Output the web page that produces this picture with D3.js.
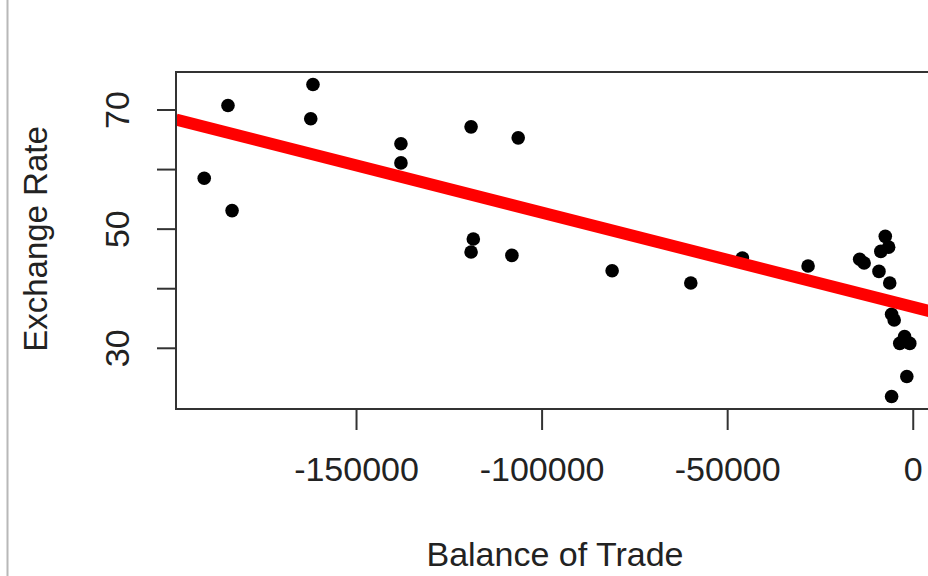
<!DOCTYPE html>
<html>
<head>
<meta charset="utf-8">
<script src="https://cdn.jsdelivr.net/npm/d3@7"></script>
<style>
  html, body { margin: 0; padding: 0; background: #fff; overflow: hidden; }
  svg { display: block; }
  text { font-family: "Liberation Sans", Arial, sans-serif; fill: #222; }
</style>
</head>
<body>
<svg id="chart" width="928" height="576"></svg>
<script>
// ---- data ----
const balance = [-190900, -184500, -183400, -161600, -162200, -137900, -137900, -119000, -106300,
  -118400, -119000, -108000, -81000, -59800, -45900, -28200, -14300, -13100, -7400, -6500,
  -8600, -9100, -6200, -5700, -5000, -2200, -3500, -800, -1600, -5700];
const exchangeRate = [58.45, 70.67, 53.03, 74.2, 68.44, 64.24, 61.04, 67.09, 65.24,
  48.27, 46.08, 45.51, 42.94, 40.87, 45.08, 43.73, 44.87, 44.24, 48.71, 46.89,
  46.18, 42.82, 40.87, 35.63, 34.66, 31.9, 30.74, 30.74, 25.18, 21.82];
const xTicks = [-150000, -100000, -50000, 0];
const yTicks = [30, 40, 50, 60, 70];
const yTickLabels = [30, 50, 70];
const fitIntercept = 36.86;
const fitSlope = -0.0001585;
const xLabel = "Balance of Trade";
const yLabel = "Exchange Rate";

// ---- layout ----
const plotL = 176, plotR = 938, plotT = 72, plotB = 409;
const svg = d3.select("#chart");

// R-style 4% padding on the data range
function padded(vals) {
  const [a, b] = d3.extent(vals);
  const d = (b - a) * 0.04;
  return [a - d, b + d];
}
const x = d3.scaleLinear().domain(padded(balance)).range([plotL, plotR]);
const y = d3.scaleLinear().domain(padded(exchangeRate)).range([plotB, plotT]);

// left gray border of the window
svg.append("line").attr("x1", 7.5).attr("x2", 7.5).attr("y1", 0).attr("y2", 576)
  .attr("stroke", "#b8b8b8").attr("stroke-width", 2);

svg.append("clipPath").attr("id", "plotclip")
  .append("rect").attr("x", plotL).attr("y", plotT).attr("width", plotR - plotL).attr("height", plotB - plotT);

// points
svg.append("g").selectAll("circle").data(balance).join("circle")
  .attr("cx", (d) => x(d))
  .attr("cy", (d, i) => y(exchangeRate[i]))
  .attr("r", 6.8)
  .attr("fill", "#000");

// regression line (abline)
const [x0, x1] = x.domain();
svg.append("line")
  .attr("clip-path", "url(#plotclip)")
  .attr("x1", x(x0)).attr("y1", y(fitIntercept + fitSlope * x0))
  .attr("x2", x(x1)).attr("y2", y(fitIntercept + fitSlope * x1))
  .attr("stroke", "#ff0000").attr("stroke-width", 12);

// box
svg.append("rect").attr("x", plotL).attr("y", plotT).attr("width", plotR - plotL).attr("height", plotB - plotT)
  .attr("fill", "none").attr("stroke", "#333").attr("stroke-width", 2);

// x axis
const xAxis = d3.axisBottom(x).tickValues(xTicks).tickSize(21)
  .tickFormat((d) => String(d));
const gx = svg.append("g").attr("transform", `translate(0,${plotB})`).call(xAxis);
gx.select(".domain").remove();
gx.selectAll(".tick line").attr("stroke", "#333").attr("stroke-width", 2);
gx.selectAll(".tick text").attr("font-size", 34).attr("fill", "#222")
  .attr("font-family", "'Liberation Sans', Arial, sans-serif")
  .attr("dy", null).attr("y", 72);

// y axis
const yAxis = d3.axisLeft(y).tickValues(yTicks).tickSize(19)
  .tickFormat((d) => yTickLabels.includes(d) ? String(d) : "");
const gy = svg.append("g").attr("transform", `translate(${plotL},0)`).call(yAxis);
gy.select(".domain").remove();
gy.selectAll(".tick line").attr("stroke", "#333").attr("stroke-width", 2);
gy.selectAll(".tick text")
  .attr("font-size", 34).attr("fill", "#222")
  .attr("font-family", "'Liberation Sans', Arial, sans-serif")
  .attr("x", null).attr("dy", null)
  .attr("text-anchor", "middle")
  .attr("transform", "translate(-47,0) rotate(-90)");

// axis titles
svg.append("text").attr("x", 555).attr("y", 566).attr("text-anchor", "middle")
  .attr("font-size", 34).text(xLabel);
svg.append("text").attr("transform", "translate(47,239) rotate(-90)").attr("text-anchor", "middle")
  .attr("font-size", 33).text(yLabel);
</script>
</body>
</html>
